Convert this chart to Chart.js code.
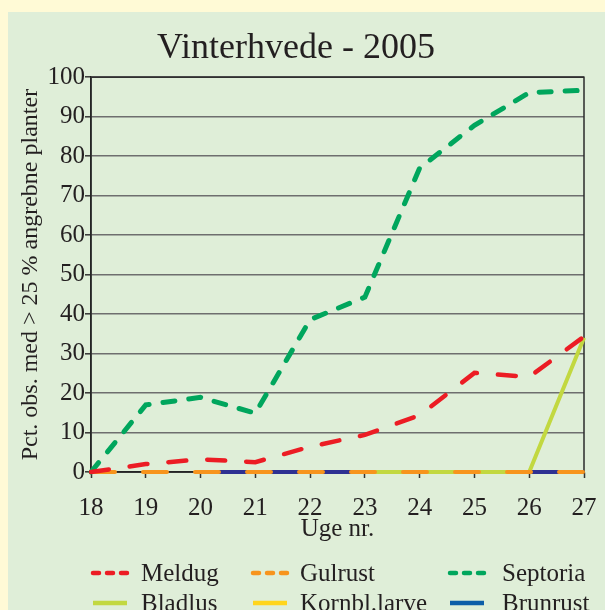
<!DOCTYPE html>
<html>
<head>
<meta charset="utf-8">
<script src="https://cdn.jsdelivr.net/npm/chart.js@4"></script>
<style>
  html, body { margin: 0; padding: 0; background: #fffad6; }
  #panel { position: absolute; left: 8px; top: 12px; width: 597px; height: 598px; background: #dfeed8; }
  canvas { display: block; }
</style>
</head>
<body>
<div id="panel"><canvas id="chart" width="597" height="598"></canvas></div>
<script>
// uge nr. (weeks)
const weeks = ["18", "19", "20", "21", "22", "23", "24", "25", "26", "27"];
// pct. obs. med > 25 % angrebne planter
const meldug   = [0, 2, 3.2, 2.5, 6.4, 9.4, 14.4, 25.1, 24.1, 34.3];
const gulrust  = [0, 0, 0, 0, 0, 0, 0, 0, 0, 0];
const septoria = [0, 17, 18.9, 14.9, 38.6, 44.3, 77, 87.8, 96.1, 96.7];
const bladlus  = [null, null, null, null, null, 0, 0, 0, 0, 34];
const kornblLarve = [null, null, 0, 0, 0, 0, 0, 0, 0, 0];
const brunrust = [null, null, 0, 0, 0, 0, 0, 0, 0, 0];

const serif = "'Liberation Serif', 'DejaVu Serif', serif";

// legend drawn in a fixed 3-column grid like the original
const gridLegend = {
    id: 'gridLegend',
    afterDraw(chart) {
        const ctx = chart.ctx;
        const samples = [83, 243, 440];
        const texts = [133, 292, 494];
        const rows = [561, 591];
        ctx.save();
        ctx.font = "25px " + serif;
        ctx.textBaseline = 'middle';
        ctx.fillStyle = '#231f20';
        chart.data.datasets.forEach((ds, i) => {
            const x = samples[i % 3];
            const y = rows[Math.floor(i / 3)];
            ctx.beginPath();
            ctx.strokeStyle = ds.legendColor || ds.borderColor;
            ctx.lineWidth = 4.5;
            if (ds.borderDash.length) {
                ctx.lineCap = 'round';
                ctx.setLineDash([6, 8]);
                ctx.moveTo(x + 2, y);
                ctx.lineTo(x + 37, y);
            } else {
                ctx.lineCap = 'butt';
                ctx.setLineDash([]);
                ctx.moveTo(x + 2, y);
                ctx.lineTo(x + 36, y);
            }
            ctx.stroke();
            ctx.fillText(ds.label, texts[i % 3], y + 1);
        });
        ctx.restore();
    }
};

// dark frame round the plot area
const plotFrame = {
    id: 'plotFrame',
    beforeDatasetsDraw(chart) {
        const a = chart.chartArea;
        const ctx = chart.ctx;
        ctx.save();
        ctx.strokeStyle = '#2b2b2b';
        ctx.lineWidth = 1.5;
        ctx.strokeRect(a.left, a.top, a.right - a.left, a.bottom - a.top);
        ctx.restore();
    }
};

new Chart(document.getElementById("chart"), {
    type: 'line',
    data: {
        labels: weeks,
        datasets: [
            {
                label: 'Meldug',
                data: meldug,
                borderColor: '#ec1c24',
                borderWidth: 4.5,
                borderDash: [18, 21],
                borderCapStyle: 'round',
                order: 1
            },
            {
                label: 'Gulrust',
                data: gulrust,
                borderColor: '#f7941d',
                borderWidth: 4,
                borderDash: [24, 28],
                borderCapStyle: 'round',
                order: 3
            },
            {
                label: 'Septoria',
                data: septoria,
                borderColor: '#00a65d',
                borderWidth: 5,
                borderDash: [12, 14],
                borderCapStyle: 'round',
                order: 2
            },
            {
                label: 'Bladlus',
                data: bladlus,
                borderColor: '#c2d840',
                borderWidth: 4,
                borderDash: [],
                order: 4
            },
            {
                label: 'Kornbl.larve',
                data: kornblLarve,
                borderColor: '#ffd51c',
                borderWidth: 4,
                borderDash: [],
                order: 6
            },
            {
                label: 'Brunrust',
                data: brunrust,
                borderColor: '#2e3192',
                legendColor: '#0d5ea8',
                borderWidth: 4,
                borderDash: [],
                order: 5
            }
        ]
    },
    options: {
        responsive: false,
        animation: false,
        devicePixelRatio: 1,
        layout: {
            padding: { left: 0, right: 21, top: 0, bottom: 66 }
        },
        elements: {
            point: { radius: 0 },
            line: { tension: 0, fill: false }
        },
        datasets: { line: { clip: false } },
        plugins: {
            legend: { display: false },
            tooltip: { enabled: false },
            title: {
                display: true,
                text: 'Vinterhvede - 2005',
                color: '#231f20',
                font: { family: serif, size: 36, weight: 'normal' },
                padding: { top: 15, bottom: 7 }
            }
        },
        scales: {
            x: {
                offset: false,
                afterFit(scale) {
                    scale.height = 72;
                    scale.paddingLeft = 0;
                    scale.paddingRight = 0;
                },
                grid: {
                    drawOnChartArea: false,
                    drawTicks: true,
                    tickLength: 6,
                    tickColor: '#333',
                    tickWidth: 1.5
                },
                border: { color: '#111', width: 1.5 },
                ticks: {
                    color: '#231f20',
                    padding: 15,
                    maxRotation: 0,
                    font: { family: serif, size: 25 }
                },
                title: {
                    display: true,
                    text: 'Uge nr.',
                    color: '#231f20',
                    font: { family: serif, size: 25 },
                    padding: { top: 0, bottom: 0 }
                }
            },
            y: {
                min: 0,
                max: 100,
                afterFit(scale) { scale.width = 83; },
                grid: {
                    color: '#6e6e6e',
                    lineWidth: 1.6,
                    drawTicks: true,
                    tickLength: 6,
                    tickColor: '#333',
                    tickWidth: 1.5
                },
                border: { color: '#111', width: 1.5 },
                ticks: {
                    stepSize: 10,
                    color: '#231f20',
                    padding: 0,
                    font: { family: serif, size: 25 }
                },
                title: {
                    display: true,
                    text: 'Pct. obs. med > 25 % angrebne planter',
                    color: '#231f20',
                    font: { family: serif, size: 24 },
                    padding: { top: 8, bottom: 0 }
                }
            }
        }
    },
    plugins: [plotFrame, gridLegend]
});
</script>
</body>
</html>
